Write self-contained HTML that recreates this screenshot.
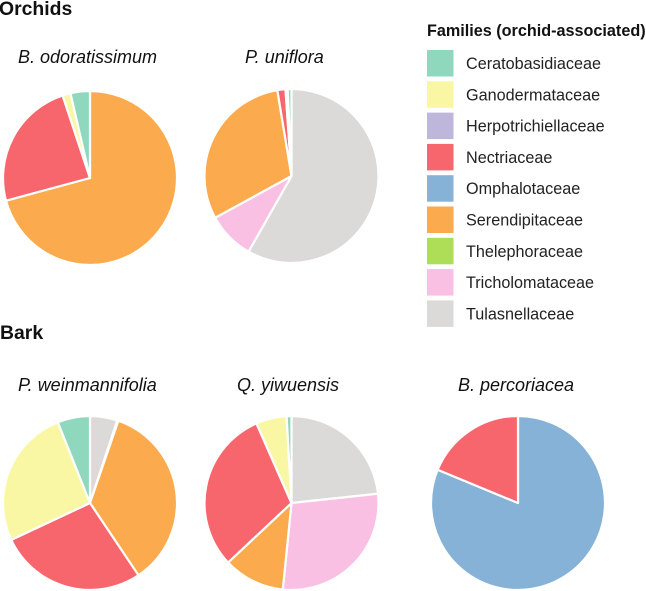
<!DOCTYPE html>
<html>
<head>
<meta charset="utf-8">
<style>
html,body{margin:0;padding:0;background:#fff;}
svg{display:block;font-family:"Liberation Sans",sans-serif;}
.h{font-weight:700;font-size:19.4px;fill:#111;}
.t{font-style:italic;font-size:18px;fill:#111;}
.l{font-size:16.2px;fill:#222;}
.lt{font-weight:700;font-size:16.2px;fill:#111;}
</style>
</head>
<body>
<svg id="chart" width="646" height="591" viewBox="0 0 646 591" xmlns="http://www.w3.org/2000/svg">
  <text class="h" x="-1" y="15">Orchids</text>
  <text class="h" x="0" y="339">Bark</text>
  <text class="t" x="18" y="63">B. odoratissimum</text>
  <text class="t" x="245" y="63">P. uniflora</text>
  <text class="t" x="18" y="391">P. weinmannifolia</text>
  <text class="t" x="237" y="391">Q. yiwuensis</text>
  <text class="t" x="458" y="391">B. percoriacea</text>
  <text class="lt" x="427" y="36">Families (orchid-associated)</text>
  <g>
    <rect x="427" y="50" width="26.5" height="26.5" fill="#8fd8bd"/>
    <text class="l" x="466" y="69">Ceratobasidiaceae</text>
    <rect x="427" y="81.3" width="26.5" height="26.5" fill="#f9f7a3"/>
    <text class="l" x="466" y="100.3">Ganodermataceae</text>
    <rect x="427" y="112.6" width="26.5" height="26.5" fill="#bfb6dc"/>
    <text class="l" x="466" y="131.6">Herpotrichiellaceae</text>
    <rect x="427" y="143.9" width="26.5" height="26.5" fill="#f7666c"/>
    <text class="l" x="466" y="162.9">Nectriaceae</text>
    <rect x="427" y="175.2" width="26.5" height="26.5" fill="#85b2d6"/>
    <text class="l" x="466" y="194.2">Omphalotaceae</text>
    <rect x="427" y="206.5" width="26.5" height="26.5" fill="#fbaa4d"/>
    <text class="l" x="466" y="225.5">Serendipitaceae</text>
    <rect x="427" y="237.8" width="26.5" height="26.5" fill="#aedd57"/>
    <text class="l" x="466" y="256.8">Thelephoraceae</text>
    <rect x="427" y="269.1" width="26.5" height="26.5" fill="#f9c0e4"/>
    <text class="l" x="466" y="288.1">Tricholomataceae</text>
    <rect x="427" y="300.4" width="26.5" height="26.5" fill="#dbdad8"/>
    <text class="l" x="466" y="319.4">Tulasnellaceae</text>
  </g>
</svg>
<script>
// Order of every array: Cerato, Ganoderm, Herpotrichiell, Nectri, Omphalot, Serendipit, Thelephor, Tricholomat, Tulasnell
const families = ["ceratobasidiaceae","ganodermataceae","herpotrichiellaceae","nectriaceae","omphalotaceae","serendipitaceae","thelephoraceae","tricholomataceae","tulasnellaceae"];
const familyColors = ["#8fd8bd","#f9f7a3","#bfb6dc","#f7666c","#85b2d6","#fbaa4d","#aedd57","#f9c0e4","#dbdad8"];
const bOdoratissimum = [3.6,1.5,0,24.1,0,70.8,0,0,0];
const pUniflora = [0.7,0,0.4,1.5,0,30.3,0,8.8,58.1];
const pWeinmannifolia = [6.05,26,0,27.5,0,35.4,0.2,0,5.1];
const qYiwuensis = [0.9,5.7,0,30.4,0,11.4,0,28.3,23.3];
const bPercoriacea = [0,0,0,18.75,81.25,0,0,0,0];

const svg = document.getElementById('chart');
const NS = 'http://www.w3.org/2000/svg';

function angleScale(total) {
  return function (v) { return v / total * Math.PI * 2; };
}

function drawPie(name, values, cx, cy, r) {
  const g = document.createElementNS(NS, 'g');
  
  
  svg.appendChild(g);
  const total = values.reduce(function (a, b) { return a + b; }, 0);
  const angle = angleScale(total);
  let a = 0;
  // Slices run clockwise from 12 o'clock in reverse legend order
  for (let i = values.length - 1; i >= 0; i--) {
    if (values[i] <= 0) continue;
    const a2 = a + angle(values[i]);
    const x1 = cx + r * Math.sin(a), y1 = cy - r * Math.cos(a);
    const x2 = cx + r * Math.sin(a2), y2 = cy - r * Math.cos(a2);
    const large = (a2 - a) > Math.PI ? 1 : 0;
    const p = document.createElementNS(NS, 'path');
    p.setAttribute('d', 'M' + cx + ' ' + cy + 'L' + x1 + ' ' + y1 + 'A' + r + ' ' + r + ' 0 ' + large + ' 1 ' + x2 + ' ' + y2 + 'Z');
    p.setAttribute('fill', familyColors[i]);
    p.setAttribute('stroke', '#fff');
    p.setAttribute('stroke-width', '2.2');
    p.setAttribute('stroke-linejoin', 'round');
    
    
    g.appendChild(p);
    a = a2;
  }
}

drawPie('b-odoratissimum', bOdoratissimum, 90, 178, 87);
drawPie('p-uniflora', pUniflora, 291.5, 176, 87);
drawPie('p-weinmannifolia', pWeinmannifolia, 90, 503, 87);
drawPie('q-yiwuensis', qYiwuensis, 291.5, 503, 87);
drawPie('b-percoriacea', bPercoriacea, 518, 503, 87);
</script>
</body>
</html>
